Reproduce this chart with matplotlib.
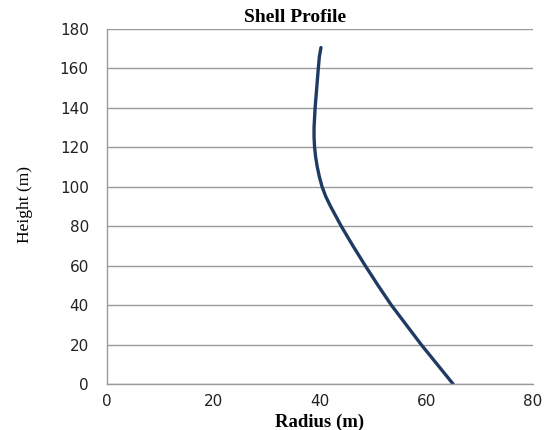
import matplotlib.pyplot as plt

# Shell profile
height = [0, 10, 20, 30, 40, 50, 60, 70, 80, 85, 90, 95, 100, 105, 110, 115, 120, 125, 130,
          140, 150, 160, 166, 170.5]
radius = [65.0, 62.0, 59.0, 56.2, 53.4, 50.9, 48.5, 46.2, 44.0, 43.0, 42.0, 41.1, 40.4, 39.9,
          39.5, 39.2, 39.0, 38.9, 38.9, 39.1, 39.4, 39.7, 39.9, 40.2]

x_ticks = [0, 20, 40, 60, 80]
y_ticks = [0, 20, 40, 60, 80, 100, 120, 140, 160, 180]

fig = plt.figure(figsize=(5.45, 4.3), dpi=100)
ax = fig.add_axes([0.196, 0.107, 0.782, 0.826])

ax.plot(radius, height, color='#1f3b63', linewidth=2.4,
        solid_capstyle='round', solid_joinstyle='round')

ax.set_xlim(0, 80)
ax.set_ylim(0, 180)
ax.set_xticks(x_ticks)
ax.set_yticks(y_ticks)
ax.grid(axis='y', color='#9a9a9a', linewidth=1.0)
ax.set_axisbelow(True)

for side in ['top', 'right']:
    ax.spines[side].set_visible(False)
for side in ['left', 'bottom']:
    ax.spines[side].set_color('#9a9a9a')
    ax.spines[side].set_linewidth(1.0)

ax.tick_params(length=0, labelsize=11, colors='#222222')
ax.tick_params(axis='y', pad=13)
ax.tick_params(axis='x', pad=7)

# Title and labels in a Times-like serif
fig.text(295 / 545, 1 - 18 / 430, 'Shell Profile', ha='center', va='center',
         family='Liberation Serif', fontweight='bold', fontsize=14)
fig.text(320 / 545, 1 - 422 / 430, 'Radius (m)', ha='center', va='center',
         family='Liberation Serif', fontweight='bold', fontsize=13.5)
fig.text(25 / 545, 1 - 205 / 430, 'Height (m)', ha='center', va='center', rotation=90,
         family='Liberation Serif', fontsize=12.5)

plt.savefig('out.png', dpi=100)
